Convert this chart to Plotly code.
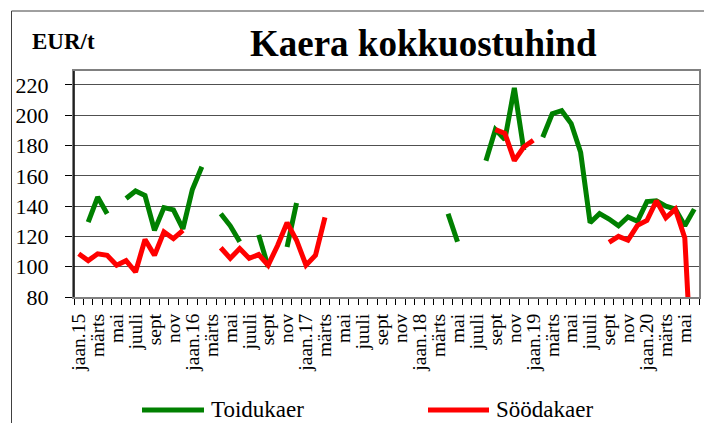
import plotly.graph_objects as go

years = [15, 16, 17, 18, 19, 20]
month_names = ["jaan", "veebr", "märts", "apr", "mai", "juuni",
               "juuli", "aug", "sept", "okt", "nov", "dets"]
n_months = 66  # jaan.2015 ... juuni.2020

toidukaer = [None, 129.5, 146, 135, None, 145, 150, 147, 124, 139, 137.5, 125,
             151, 166, None, 135, 127, 116.5, None, 121, 100, None, 113, 142,
             None, None, None, None, None, None, None, None, None, None, None, None,
             None, None, None, 135, 116.5, None, None, 170, 190.5, 184, 218, 177,
             None, 185.5, 201, 203, 194.5, 175.5, 129, 135, 131.5, 127, 132.8, 130,
             143, 143.5, 140, 138, 127, 138]
soodakaer = [108.5, 104, 108.5, 107.5, 101, 104, 96.5, 118, 107.5, 123, 118.5, 124,
             None, None, None, 112.5, 105.5, 112, 105.5, 108, 101, 114, 129, 117.5,
             101, 107.5, 132.5, None, None, None, None, None, None, None, None, None,
             None, None, None, None, None, None, None, None, 190.5, 188, 170, 179,
             183.5, None, None, None, None, None, None, None, 116, 120, 117.5, 127.3,
             130.5, 143.5, 132.3, 138, 119, 0]

x = list(range(n_months))
tick_text = []
for i in x:
    m = i % 12
    y = years[i // 12]
    if m % 2 == 1:
        tick_text.append("")
    elif m == 0:
        tick_text.append(f"jaan.{y}")
    else:
        tick_text.append(month_names[m])

SERIF = "Liberation Serif, Times New Roman, serif"

fig = go.Figure()
fig.add_trace(go.Scatter(x=x, y=toidukaer, mode="lines", name="Toidukaer",
                         line=dict(color="#008000", width=5), showlegend=False))
fig.add_trace(go.Scatter(x=x, y=soodakaer, mode="lines", name="Söödakaer",
                         line=dict(color="#FF0000", width=5), showlegend=False))

L, R, T, B = 74, 5, 71, 126
W, H = 704, 423
pw, ph = W - L - R, H - T - B

def px(xp):
    return (xp - L) / pw

def py(yp):
    return (H - B - yp) / ph

fig.update_layout(
    width=W, height=H,
    margin=dict(l=L, r=R, t=T, b=B),
    paper_bgcolor="white", plot_bgcolor="white",
    font=dict(family=SERIF, color="black"),
    xaxis=dict(range=[-0.5, n_months - 0.5], tickmode="array", tickvals=x,
               ticktext=tick_text, ticks="", tickangle=-90, automargin=False,
               tickfont=dict(size=19.5, family=SERIF, color="black"),
               ticklabelstandoff=7,
               showgrid=False, zeroline=False,
               showline=True, linecolor="#808080", linewidth=2, mirror=True,
               minor=dict(tick0=-0.5, dtick=1, ticks="outside", ticklen=6,
                          tickcolor="black", tickwidth=1, showgrid=False)),
    yaxis=dict(range=[80, 229.2], tickmode="array", automargin=False,
               tickvals=[80, 100, 120, 140, 160, 180, 200, 220],
               ticks="outside", ticklen=7, tickcolor="black",
               tickfont=dict(size=22, family=SERIF, color="black"),
               ticklabelstandoff=12,
               showgrid=True, gridcolor="#505050", gridwidth=1,
               zeroline=False, showline=True, linecolor="#808080",
               linewidth=2, mirror=True),
    shapes=[
        dict(type="line", xref="paper", yref="paper", x0=0, x1=0, y0=0, y1=1,
             line=dict(color="black", width=1.5), layer="above"),
        dict(type="rect", xref="paper", yref="paper",
             x0=px(11.5), x1=px(720), y0=py(440), y1=py(11),
             line=dict(color="#404040", width=1), layer="below"),
        dict(type="line", xref="paper", yref="paper", x0=px(142), x1=px(204),
             y0=py(410), y1=py(410), line=dict(color="#008000", width=5)),
        dict(type="line", xref="paper", yref="paper", x0=px(428), x1=px(489),
             y0=py(410), y1=py(410), line=dict(color="#FF0000", width=5)),
    ],
    annotations=[
        dict(text="<b>Kaera kokkuostuhind</b>", xref="paper", yref="paper",
             x=px(423), y=py(44), xanchor="center", yanchor="middle",
             showarrow=False, font=dict(size=37, family=SERIF, color="black")),
        dict(text="<b>EUR/t</b>", xref="paper", yref="paper",
             x=px(63), y=py(41), xanchor="center", yanchor="middle",
             showarrow=False, font=dict(size=23, family=SERIF, color="black")),
        dict(text="Toidukaer", xref="paper", yref="paper",
             x=px(209), y=py(409), xanchor="left", yanchor="middle",
             showarrow=False, font=dict(size=23, family=SERIF, color="black")),
        dict(text="Söödakaer", xref="paper", yref="paper",
             x=px(494), y=py(409), xanchor="left", yanchor="middle",
             showarrow=False, font=dict(size=23, family=SERIF, color="black")),
    ],
)

fig.write_html("out.html", config={"displayModeBar": False},
               post_script="document.body.style.margin='0';document.body.style.overflow='hidden';")
